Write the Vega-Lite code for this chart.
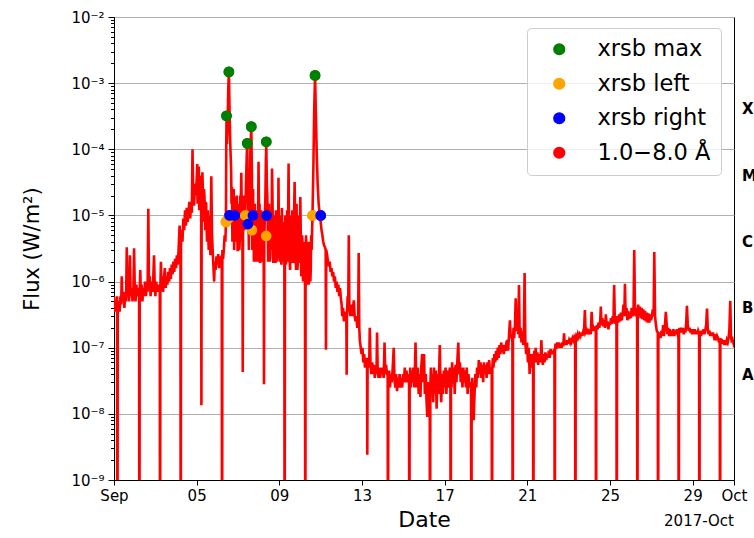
{
  "$schema": "https://vega.github.io/schema/vega-lite/v6.json",
  "width": 620,
  "height": 463,
  "autosize": "none",
  "padding": {"left": 114, "top": 17, "right": 20, "bottom": 58},
  "config": {
    "view": {"stroke": "black", "strokeWidth": 1},
    "font": "DejaVu Sans",
    "axis": {"labelFont": "DejaVu Sans", "titleFont": "DejaVu Sans", "labelColor": "black", "titleColor": "black", "domainColor": "black", "tickColor": "black", "titleFontWeight": "normal"}
  },
  "datasets": {
    "xrs": [
      {"time":"2017-09-01T00:00","flux":6e-7},{"time":"2017-09-01T01:00","flux":3.5e-7},{"time":"2017-09-01T02:00","flux":5e-7},{"time":"2017-09-01T03:00","flux":4e-7},{"time":"2017-09-01T03:40","flux":6e-7},{"time":"2017-09-01T04:00","flux":1e-12},{"time":"2017-09-01T04:20","flux":5e-7},{"time":"2017-09-01T05:30","flux":4.5e-7},{"time":"2017-09-01T06:30","flux":3.5e-7},{"time":"2017-09-01T07:30","flux":6e-7},{"time":"2017-09-01T08:20","flux":4.5e-7},{"time":"2017-09-01T09:00","flux":1.2e-6},{"time":"2017-09-01T09:50","flux":5e-7},{"time":"2017-09-01T11:00","flux":7e-7},{"time":"2017-09-01T12:00","flux":4e-7},{"time":"2017-09-01T13:00","flux":6e-7},{"time":"2017-09-01T14:00","flux":5e-7},{"time":"2017-09-01T14:50","flux":3.3e-6},{"time":"2017-09-01T15:40","flux":6e-7},{"time":"2017-09-01T16:30","flux":9e-7},{"time":"2017-09-01T17:30","flux":5e-7},{"time":"2017-09-01T18:30","flux":2.5e-6},{"time":"2017-09-01T19:20","flux":6e-7},{"time":"2017-09-01T20:30","flux":8e-7},{"time":"2017-09-01T21:30","flux":5e-7},{"time":"2017-09-01T22:30","flux":7e-7},{"time":"2017-09-01T23:20","flux":3.2e-6},
      {"time":"2017-09-02T00:10","flux":7e-7},{"time":"2017-09-02T01:00","flux":5e-7},{"time":"2017-09-02T02:00","flux":9e-7},{"time":"2017-09-02T03:00","flux":6e-7},{"time":"2017-09-02T04:00","flux":8e-7},{"time":"2017-09-02T05:10","flux":7e-7},{"time":"2017-09-02T05:30","flux":1e-12},{"time":"2017-09-02T05:50","flux":7e-7},{"time":"2017-09-02T06:30","flux":1.5e-6},{"time":"2017-09-02T07:10","flux":6e-7},{"time":"2017-09-02T08:00","flux":9e-7},{"time":"2017-09-02T09:00","flux":5e-7},{"time":"2017-09-02T10:00","flux":8e-7},{"time":"2017-09-02T11:00","flux":6e-7},{"time":"2017-09-02T12:00","flux":1e-6},{"time":"2017-09-02T13:00","flux":6e-7},{"time":"2017-09-02T14:00","flux":9e-7},{"time":"2017-09-02T15:00","flux":7e-7},{"time":"2017-09-02T15:50","flux":1.26e-5},{"time":"2017-09-02T16:40","flux":8e-7},{"time":"2017-09-02T17:30","flux":1.2e-6},{"time":"2017-09-02T18:30","flux":6e-7},{"time":"2017-09-02T19:30","flux":1e-6},{"time":"2017-09-02T20:30","flux":7e-7},{"time":"2017-09-02T21:30","flux":1e-6},{"time":"2017-09-02T22:30","flux":2.5e-6},{"time":"2017-09-02T23:20","flux":8e-7},
      {"time":"2017-09-03T00:00","flux":6e-7},{"time":"2017-09-03T01:00","flux":1e-6},{"time":"2017-09-03T02:00","flux":7e-7},{"time":"2017-09-03T03:00","flux":9e-7},{"time":"2017-09-03T04:00","flux":7e-7},{"time":"2017-09-03T05:10","flux":8e-7},{"time":"2017-09-03T05:30","flux":1e-12},{"time":"2017-09-03T05:50","flux":8e-7},{"time":"2017-09-03T06:30","flux":2e-6},{"time":"2017-09-03T07:10","flux":8e-7},{"time":"2017-09-03T08:00","flux":1.2e-6},{"time":"2017-09-03T09:00","flux":7e-7},{"time":"2017-09-03T10:00","flux":1.1e-6},{"time":"2017-09-03T11:00","flux":1.6e-6},{"time":"2017-09-03T12:00","flux":8e-7},{"time":"2017-09-03T13:00","flux":1.2e-6},{"time":"2017-09-03T14:00","flux":9e-7},{"time":"2017-09-03T15:00","flux":1.4e-6},{"time":"2017-09-03T16:00","flux":1e-6},{"time":"2017-09-03T17:00","flux":1.6e-6},{"time":"2017-09-03T18:00","flux":1.1e-6},{"time":"2017-09-03T19:00","flux":1.8e-6},{"time":"2017-09-03T20:00","flux":1.3e-6},{"time":"2017-09-03T21:00","flux":2e-6},{"time":"2017-09-03T22:00","flux":1.4e-6},{"time":"2017-09-03T23:00","flux":2.2e-6},
      {"time":"2017-09-04T00:00","flux":1.6e-6},{"time":"2017-09-04T01:00","flux":2.5e-6},{"time":"2017-09-04T02:00","flux":1.8e-6},{"time":"2017-09-04T03:00","flux":3e-6},{"time":"2017-09-04T04:10","flux":7e-6},{"time":"2017-09-04T05:10","flux":4e-6},{"time":"2017-09-04T05:30","flux":1e-12},{"time":"2017-09-04T05:50","flux":4e-6},{"time":"2017-09-04T06:40","flux":6e-6},{"time":"2017-09-04T07:30","flux":4e-6},{"time":"2017-09-04T08:30","flux":9e-6},{"time":"2017-09-04T09:30","flux":6e-6},{"time":"2017-09-04T10:30","flux":1.2e-5},{"time":"2017-09-04T11:30","flux":7e-6},{"time":"2017-09-04T12:30","flux":1.3e-5},{"time":"2017-09-04T13:30","flux":8e-6},{"time":"2017-09-04T14:30","flux":1.1e-5},{"time":"2017-09-04T15:30","flux":1.6e-5},{"time":"2017-09-04T16:30","flux":9e-6},{"time":"2017-09-04T17:30","flux":1.5e-5},{"time":"2017-09-04T18:20","flux":1.1e-5},{"time":"2017-09-04T19:10","flux":1e-4},{"time":"2017-09-04T20:00","flux":2e-5},{"time":"2017-09-04T21:00","flux":1.4e-5},{"time":"2017-09-04T22:00","flux":3e-5},{"time":"2017-09-04T23:00","flux":2e-5},
      {"time":"2017-09-05T00:00","flux":3.5e-5},{"time":"2017-09-05T00:40","flux":6e-5},{"time":"2017-09-05T01:30","flux":2.5e-5},{"time":"2017-09-05T02:30","flux":5.5e-5},{"time":"2017-09-05T03:30","flux":2.5e-5},{"time":"2017-09-05T04:20","flux":4e-5},{"time":"2017-09-05T05:10","flux":3e-5},{"time":"2017-09-05T05:30","flux":1.35e-8},{"time":"2017-09-05T05:50","flux":2.5e-5},{"time":"2017-09-05T06:40","flux":4.5e-5},{"time":"2017-09-05T07:30","flux":1.8e-5},{"time":"2017-09-05T08:30","flux":2.5e-5},{"time":"2017-09-05T09:30","flux":1.2e-5},{"time":"2017-09-05T10:30","flux":1.6e-5},{"time":"2017-09-05T11:30","flux":8e-6},{"time":"2017-09-05T12:30","flux":1e-5},{"time":"2017-09-05T13:30","flux":5e-6},{"time":"2017-09-05T14:30","flux":8e-6},{"time":"2017-09-05T15:30","flux":4e-6},{"time":"2017-09-05T16:20","flux":7e-6},{"time":"2017-09-05T17:00","flux":3.9e-5},{"time":"2017-09-05T17:50","flux":5e-6},{"time":"2017-09-05T18:50","flux":2.5e-6},{"time":"2017-09-05T19:40","flux":1.5e-6},{"time":"2017-09-05T20:20","flux":1e-6},{"time":"2017-09-05T21:00","flux":2e-6},{"time":"2017-09-05T22:00","flux":1.5e-6},{"time":"2017-09-05T23:00","flux":2.4e-6},
      {"time":"2017-09-06T00:00","flux":1.8e-6},{"time":"2017-09-06T01:00","flux":2.6e-6},{"time":"2017-09-06T02:00","flux":1.6e-6},{"time":"2017-09-06T03:00","flux":2.4e-6},{"time":"2017-09-06T04:00","flux":1.8e-6},{"time":"2017-09-06T05:10","flux":2.5e-6},{"time":"2017-09-06T05:30","flux":1e-12},{"time":"2017-09-06T05:50","flux":3e-6},{"time":"2017-09-06T06:40","flux":2.2e-6},{"time":"2017-09-06T07:30","flux":3e-6},{"time":"2017-09-06T08:30","flux":5e-6},{"time":"2017-09-06T09:20","flux":4e-6},{"time":"2017-09-06T10:00","flux":8e-6},{"time":"2017-09-06T10:20","flux":1e-4},{"time":"2017-09-06T10:40","flux":3.2e-4},{"time":"2017-09-06T11:10","flux":1.2e-4},{"time":"2017-09-06T11:50","flux":2e-4},{"time":"2017-09-06T12:40","flux":8e-4},{"time":"2017-09-06T13:25","flux":1.48e-3},{"time":"2017-09-06T14:10","flux":4e-4},{"time":"2017-09-06T15:00","flux":1.2e-4},{"time":"2017-09-06T16:00","flux":5e-5},{"time":"2017-09-06T17:00","flux":2.7e-5},{"time":"2017-09-06T18:00","flux":1.2e-5},{"time":"2017-09-06T19:00","flux":2.5e-5},{"time":"2017-09-06T20:00","flux":8e-6},{"time":"2017-09-06T21:00","flux":1.9e-5},{"time":"2017-09-06T22:00","flux":6e-6},{"time":"2017-09-06T23:00","flux":1e-5},
      {"time":"2017-09-07T00:00","flux":3e-6},{"time":"2017-09-07T01:00","flux":1.2e-5},{"time":"2017-09-07T02:00","flux":4e-6},{"time":"2017-09-07T03:00","flux":9e-6},{"time":"2017-09-07T03:50","flux":4.4e-5},{"time":"2017-09-07T04:40","flux":5e-6},{"time":"2017-09-07T05:10","flux":4e-6},{"time":"2017-09-07T05:30","flux":4.3e-8},{"time":"2017-09-07T05:50","flux":5e-6},{"time":"2017-09-07T06:40","flux":2e-5},{"time":"2017-09-07T07:30","flux":6e-6},{"time":"2017-09-07T08:25","flux":1e-5},{"time":"2017-09-07T09:30","flux":4e-5},{"time":"2017-09-07T10:10","flux":8e-5},{"time":"2017-09-07T10:45","flux":1.23e-4},{"time":"2017-09-07T11:20","flux":3e-5},{"time":"2017-09-07T12:10","flux":1e-5},{"time":"2017-09-07T13:10","flux":2e-5},{"time":"2017-09-07T14:20","flux":9e-5},{"time":"2017-09-07T15:25","flux":2.2e-4},{"time":"2017-09-07T16:10","flux":4e-5},{"time":"2017-09-07T17:00","flux":1.2e-5},{"time":"2017-09-07T18:00","flux":5e-6},{"time":"2017-09-07T19:00","flux":1e-5},{"time":"2017-09-07T20:00","flux":3e-6},{"time":"2017-09-07T21:00","flux":6e-6},{"time":"2017-09-07T22:00","flux":4e-6},{"time":"2017-09-07T23:00","flux":2.5e-6},{"time":"2017-09-07T23:50","flux":6.5e-5},
      {"time":"2017-09-08T00:40","flux":5e-6},{"time":"2017-09-08T01:30","flux":2e-6},{"time":"2017-09-08T02:30","flux":5e-6},{"time":"2017-09-08T03:30","flux":2.5e-6},{"time":"2017-09-08T04:30","flux":6e-6},{"time":"2017-09-08T05:50","flux":4e-6},{"time":"2017-09-08T06:10","flux":2.8e-8},{"time":"2017-09-08T06:30","flux":4e-6},{"time":"2017-09-08T07:10","flux":1e-5},{"time":"2017-09-08T07:50","flux":2e-5},{"time":"2017-09-08T08:20","flux":6e-5},{"time":"2017-09-08T08:50","flux":1.3e-4},{"time":"2017-09-08T09:30","flux":3e-5},{"time":"2017-09-08T10:30","flux":8e-6},{"time":"2017-09-08T11:30","flux":3e-6},{"time":"2017-09-08T12:30","flux":6e-6},{"time":"2017-09-08T13:30","flux":2.5e-6},{"time":"2017-09-08T14:30","flux":8e-6},{"time":"2017-09-08T15:30","flux":5.1e-5},{"time":"2017-09-08T16:30","flux":6e-6},{"time":"2017-09-08T17:30","flux":2e-6},{"time":"2017-09-08T18:30","flux":4e-6},{"time":"2017-09-08T19:30","flux":2e-6},{"time":"2017-09-08T20:30","flux":5e-6},{"time":"2017-09-08T21:30","flux":3e-6},{"time":"2017-09-08T23:00","flux":3.7e-5},{"time":"2017-09-08T23:40","flux":3e-6},
      {"time":"2017-09-09T00:30","flux":2e-6},{"time":"2017-09-09T01:30","flux":4e-6},{"time":"2017-09-09T02:30","flux":1.8e-6},{"time":"2017-09-09T03:30","flux":5e-6},{"time":"2017-09-09T04:30","flux":2.5e-6},{"time":"2017-09-09T05:50","flux":2.5e-6},{"time":"2017-09-09T06:10","flux":1e-12},{"time":"2017-09-09T06:30","flux":3e-6},{"time":"2017-09-09T07:30","flux":1.8e-6},{"time":"2017-09-09T08:30","flux":4e-6},{"time":"2017-09-09T09:30","flux":2e-6},{"time":"2017-09-09T10:00","flux":5e-6},{"time":"2017-09-09T10:45","flux":6.1e-5},{"time":"2017-09-09T11:40","flux":3e-6},{"time":"2017-09-09T12:30","flux":1.5e-6},{"time":"2017-09-09T13:30","flux":4e-6},{"time":"2017-09-09T14:30","flux":2e-6},{"time":"2017-09-09T15:30","flux":5e-6},{"time":"2017-09-09T16:30","flux":2e-6},{"time":"2017-09-09T17:45","flux":3.2e-5},{"time":"2017-09-09T18:40","flux":3e-6},{"time":"2017-09-09T19:30","flux":1.5e-6},{"time":"2017-09-09T20:30","flux":4e-6},{"time":"2017-09-09T21:30","flux":2e-6},{"time":"2017-09-09T22:30","flux":5e-6},{"time":"2017-09-09T23:30","flux":2e-6},
      {"time":"2017-09-10T00:20","flux":1.9e-5},{"time":"2017-09-10T01:00","flux":3e-6},{"time":"2017-09-10T02:00","flux":1.5e-6},{"time":"2017-09-10T03:00","flux":3e-6},{"time":"2017-09-10T04:00","flux":1.2e-6},{"time":"2017-09-10T05:00","flux":2e-6},{"time":"2017-09-10T05:50","flux":1.5e-6},{"time":"2017-09-10T06:10","flux":1e-12},{"time":"2017-09-10T06:30","flux":1.5e-6},{"time":"2017-09-10T07:30","flux":2.5e-6},{"time":"2017-09-10T08:30","flux":1.2e-6},{"time":"2017-09-10T09:30","flux":2e-6},{"time":"2017-09-10T10:30","flux":1e-6},{"time":"2017-09-10T11:30","flux":2.5e-6},{"time":"2017-09-10T12:30","flux":1.5e-6},{"time":"2017-09-10T13:30","flux":3e-6},{"time":"2017-09-10T14:30","flux":1e-5},{"time":"2017-09-10T15:30","flux":5e-5},{"time":"2017-09-10T16:30","flux":4e-4},{"time":"2017-09-10T17:30","flux":1.31e-3},{"time":"2017-09-10T18:30","flux":3e-4},{"time":"2017-09-10T19:30","flux":8e-5},{"time":"2017-09-10T20:30","flux":3e-5},{"time":"2017-09-10T21:40","flux":1.5e-5},{"time":"2017-09-10T23:00","flux":1e-5},
      {"time":"2017-09-11T00:00","flux":8e-6},{"time":"2017-09-11T01:00","flux":6e-6},{"time":"2017-09-11T02:00","flux":5e-6},{"time":"2017-09-11T03:00","flux":4e-6},{"time":"2017-09-11T04:00","flux":3.5e-6},{"time":"2017-09-11T05:00","flux":3.3e-6},{"time":"2017-09-11T05:50","flux":3e-6},{"time":"2017-09-11T06:10","flux":9.3e-8},{"time":"2017-09-11T06:30","flux":3e-6},{"time":"2017-09-11T07:30","flux":2.5e-6},{"time":"2017-09-11T08:30","flux":2e-6},{"time":"2017-09-11T09:30","flux":1.7e-6},{"time":"2017-09-11T10:30","flux":2e-6},{"time":"2017-09-11T11:30","flux":1.4e-6},{"time":"2017-09-11T12:30","flux":1.6e-6},{"time":"2017-09-11T13:30","flux":1.2e-6},{"time":"2017-09-11T14:30","flux":1.4e-6},{"time":"2017-09-11T15:30","flux":1e-6},{"time":"2017-09-11T16:30","flux":1.2e-6},{"time":"2017-09-11T17:30","flux":8e-7},{"time":"2017-09-11T18:30","flux":1e-6},{"time":"2017-09-11T19:30","flux":7e-7},{"time":"2017-09-11T20:30","flux":9e-7},{"time":"2017-09-11T21:30","flux":6e-7},{"time":"2017-09-11T22:30","flux":8e-7},{"time":"2017-09-11T23:30","flux":5.5e-7},
      {"time":"2017-09-12T00:20","flux":4.5e-7},{"time":"2017-09-12T01:00","flux":3e-7},{"time":"2017-09-12T02:00","flux":4e-7},{"time":"2017-09-12T03:00","flux":2.5e-7},{"time":"2017-09-12T04:00","flux":3.5e-7},{"time":"2017-09-12T05:00","flux":3e-7},{"time":"2017-09-12T05:50","flux":3e-7},{"time":"2017-09-12T06:10","flux":3.9e-8},{"time":"2017-09-12T06:30","flux":3e-7},{"time":"2017-09-12T07:20","flux":6e-7},{"time":"2017-09-12T08:00","flux":4e-7},{"time":"2017-09-12T08:40","flux":5e-6},{"time":"2017-09-12T09:20","flux":4e-7},{"time":"2017-09-12T10:30","flux":3e-7},{"time":"2017-09-12T11:30","flux":4.5e-7},{"time":"2017-09-12T12:30","flux":3e-7},{"time":"2017-09-12T13:30","flux":4e-7},{"time":"2017-09-12T14:30","flux":5.2e-7},{"time":"2017-09-12T15:30","flux":3e-7},{"time":"2017-09-12T16:30","flux":2.5e-7},{"time":"2017-09-12T17:30","flux":3e-7},{"time":"2017-09-12T18:30","flux":2e-7},{"time":"2017-09-12T19:30","flux":2.5e-7},{"time":"2017-09-12T20:10","flux":2.7e-6},{"time":"2017-09-12T20:50","flux":2e-7},{"time":"2017-09-12T21:30","flux":1.3e-7},{"time":"2017-09-12T22:30","flux":1e-7},{"time":"2017-09-12T23:30","flux":8e-8},
      {"time":"2017-09-13T00:30","flux":1e-7},{"time":"2017-09-13T01:30","flux":6e-8},{"time":"2017-09-13T02:30","flux":8e-8},{"time":"2017-09-13T03:30","flux":5e-8},{"time":"2017-09-13T04:30","flux":7e-8},{"time":"2017-09-13T05:50","flux":5e-8},{"time":"2017-09-13T06:10","flux":2.4e-9},{"time":"2017-09-13T06:30","flux":6e-8},{"time":"2017-09-13T07:30","flux":7e-8},{"time":"2017-09-13T08:20","flux":5e-8},{"time":"2017-09-13T09:00","flux":2e-7},{"time":"2017-09-13T09:50","flux":6e-8},{"time":"2017-09-13T10:50","flux":4e-8},{"time":"2017-09-13T11:50","flux":6e-8},{"time":"2017-09-13T12:50","flux":4e-8},{"time":"2017-09-13T13:50","flux":5.5e-8},{"time":"2017-09-13T14:50","flux":3.5e-8},{"time":"2017-09-13T15:50","flux":5e-8},{"time":"2017-09-13T16:50","flux":4e-8},{"time":"2017-09-13T17:30","flux":1.7e-7},{"time":"2017-09-13T18:10","flux":5e-8},{"time":"2017-09-13T19:10","flux":3.5e-8},{"time":"2017-09-13T20:10","flux":5e-8},{"time":"2017-09-13T21:10","flux":3.5e-8},{"time":"2017-09-13T22:10","flux":5e-8},{"time":"2017-09-13T23:10","flux":4e-8},
      {"time":"2017-09-14T00:10","flux":5e-8},{"time":"2017-09-14T01:10","flux":3.5e-8},{"time":"2017-09-14T02:10","flux":1.2e-7},{"time":"2017-09-14T03:00","flux":4e-8},{"time":"2017-09-14T04:00","flux":5.5e-8},{"time":"2017-09-14T05:00","flux":4e-8},{"time":"2017-09-14T05:50","flux":4e-8},{"time":"2017-09-14T06:10","flux":1e-12},{"time":"2017-09-14T06:30","flux":4e-8},{"time":"2017-09-14T07:30","flux":4.5e-8},{"time":"2017-09-14T08:30","flux":2.5e-8},{"time":"2017-09-14T09:30","flux":4e-8},{"time":"2017-09-14T10:30","flux":3e-8},{"time":"2017-09-14T11:30","flux":4.5e-8},{"time":"2017-09-14T12:50","flux":1e-7},{"time":"2017-09-14T13:40","flux":3.5e-8},{"time":"2017-09-14T14:40","flux":2.5e-8},{"time":"2017-09-14T15:40","flux":4e-8},{"time":"2017-09-14T16:40","flux":2.2e-8},{"time":"2017-09-14T17:40","flux":3.5e-8},{"time":"2017-09-14T18:40","flux":2.5e-8},{"time":"2017-09-14T19:40","flux":4e-8},{"time":"2017-09-14T20:40","flux":2.5e-8},{"time":"2017-09-14T21:40","flux":3.5e-8},{"time":"2017-09-14T22:40","flux":2.5e-8},{"time":"2017-09-14T23:40","flux":4e-8},
      {"time":"2017-09-15T00:40","flux":3e-8},{"time":"2017-09-15T01:40","flux":5e-8},{"time":"2017-09-15T02:40","flux":3e-8},{"time":"2017-09-15T03:40","flux":4.5e-8},{"time":"2017-09-15T04:40","flux":3e-8},{"time":"2017-09-15T05:40","flux":4e-8},{"time":"2017-09-15T06:40","flux":3e-8},{"time":"2017-09-15T07:00","flux":1e-12},{"time":"2017-09-15T07:20","flux":3e-8},{"time":"2017-09-15T08:00","flux":5e-8},{"time":"2017-09-15T08:40","flux":2.5e-8},{"time":"2017-09-15T09:40","flux":4.5e-8},{"time":"2017-09-15T10:40","flux":3e-8},{"time":"2017-09-15T11:40","flux":5e-8},{"time":"2017-09-15T12:40","flux":2.5e-8},{"time":"2017-09-15T13:40","flux":6e-8},{"time":"2017-09-15T14:10","flux":1.2e-7},{"time":"2017-09-15T14:50","flux":4e-8},{"time":"2017-09-15T15:50","flux":2.5e-8},{"time":"2017-09-15T16:50","flux":5e-8},{"time":"2017-09-15T17:50","flux":2e-8},{"time":"2017-09-15T18:50","flux":4e-8},{"time":"2017-09-15T19:50","flux":1.8e-8},{"time":"2017-09-15T20:50","flux":5e-8},{"time":"2017-09-15T21:50","flux":8e-8},{"time":"2017-09-15T22:50","flux":3e-8},
      {"time":"2017-09-16T00:00","flux":8e-8},{"time":"2017-09-16T01:00","flux":2e-8},{"time":"2017-09-16T02:00","flux":4e-8},{"time":"2017-09-16T03:00","flux":1.5e-8},{"time":"2017-09-16T03:50","flux":9e-9},{"time":"2017-09-16T04:30","flux":3e-8},{"time":"2017-09-16T05:30","flux":2.5e-8},{"time":"2017-09-16T06:40","flux":3e-8},{"time":"2017-09-16T07:00","flux":1e-12},{"time":"2017-09-16T07:20","flux":2.5e-8},{"time":"2017-09-16T08:00","flux":5e-8},{"time":"2017-09-16T08:40","flux":2e-8},{"time":"2017-09-16T09:40","flux":4e-8},{"time":"2017-09-16T10:40","flux":1.5e-8},{"time":"2017-09-16T11:40","flux":5e-8},{"time":"2017-09-16T12:40","flux":2e-8},{"time":"2017-09-16T13:40","flux":4.5e-8},{"time":"2017-09-16T14:40","flux":1.2e-8},{"time":"2017-09-16T15:40","flux":4e-8},{"time":"2017-09-16T16:40","flux":2e-8},{"time":"2017-09-16T17:40","flux":5e-8},{"time":"2017-09-16T18:20","flux":1.1e-7},{"time":"2017-09-16T19:00","flux":3e-8},{"time":"2017-09-16T20:00","flux":1.5e-8},{"time":"2017-09-16T21:00","flux":4e-8},{"time":"2017-09-16T22:00","flux":2e-8},{"time":"2017-09-16T23:00","flux":4.5e-8},
      {"time":"2017-09-17T00:00","flux":2.5e-8},{"time":"2017-09-17T01:00","flux":5e-8},{"time":"2017-09-17T02:00","flux":2e-8},{"time":"2017-09-17T03:00","flux":4.5e-8},{"time":"2017-09-17T04:00","flux":2.5e-8},{"time":"2017-09-17T05:00","flux":3e-8},{"time":"2017-09-17T06:00","flux":5e-8},{"time":"2017-09-17T06:40","flux":3e-8},{"time":"2017-09-17T07:00","flux":1e-12},{"time":"2017-09-17T07:20","flux":3e-8},{"time":"2017-09-17T08:00","flux":2.5e-8},{"time":"2017-09-17T08:40","flux":6e-8},{"time":"2017-09-17T09:40","flux":3e-8},{"time":"2017-09-17T10:40","flux":5e-8},{"time":"2017-09-17T11:40","flux":2e-8},{"time":"2017-09-17T12:40","flux":5.5e-8},{"time":"2017-09-17T13:40","flux":3e-8},{"time":"2017-09-17T14:40","flux":6e-8},{"time":"2017-09-17T15:50","flux":1.2e-7},{"time":"2017-09-17T16:40","flux":4e-8},{"time":"2017-09-17T17:40","flux":6e-8},{"time":"2017-09-17T18:40","flux":3e-8},{"time":"2017-09-17T19:40","flux":5e-8},{"time":"2017-09-17T20:40","flux":2.5e-8},{"time":"2017-09-17T21:40","flux":5e-8},{"time":"2017-09-17T22:40","flux":3e-8},{"time":"2017-09-17T23:40","flux":4.5e-8},
      {"time":"2017-09-18T00:40","flux":2.5e-8},{"time":"2017-09-18T01:40","flux":5e-8},{"time":"2017-09-18T02:40","flux":2e-8},{"time":"2017-09-18T03:40","flux":4e-8},{"time":"2017-09-18T04:40","flux":2.5e-8},{"time":"2017-09-18T05:40","flux":3e-8},{"time":"2017-09-18T06:40","flux":2.5e-8},{"time":"2017-09-18T07:00","flux":1e-12},{"time":"2017-09-18T07:20","flux":2e-8},{"time":"2017-09-18T08:00","flux":3.5e-8},{"time":"2017-09-18T08:40","flux":1.2e-8},{"time":"2017-09-18T09:40","flux":8e-9},{"time":"2017-09-18T10:40","flux":2e-8},{"time":"2017-09-18T11:40","flux":4e-8},{"time":"2017-09-18T12:40","flux":2.5e-8},{"time":"2017-09-18T13:40","flux":5e-8},{"time":"2017-09-18T14:40","flux":3.5e-8},{"time":"2017-09-18T15:40","flux":6.5e-8},{"time":"2017-09-18T16:40","flux":4e-8},{"time":"2017-09-18T17:40","flux":6e-8},{"time":"2017-09-18T18:40","flux":3.5e-8},{"time":"2017-09-18T19:40","flux":5.5e-8},{"time":"2017-09-18T20:40","flux":3e-8},{"time":"2017-09-18T21:40","flux":6e-8},{"time":"2017-09-18T22:40","flux":4e-8},{"time":"2017-09-18T23:40","flux":5.5e-8},
      {"time":"2017-09-19T00:40","flux":3.5e-8},{"time":"2017-09-19T01:40","flux":6e-8},{"time":"2017-09-19T02:40","flux":4e-8},{"time":"2017-09-19T03:40","flux":6.5e-8},{"time":"2017-09-19T04:40","flux":4e-8},{"time":"2017-09-19T05:40","flux":5e-8},{"time":"2017-09-19T06:40","flux":4.5e-8},{"time":"2017-09-19T07:00","flux":1e-12},{"time":"2017-09-19T07:20","flux":5e-8},{"time":"2017-09-19T08:00","flux":7e-8},{"time":"2017-09-19T08:40","flux":5e-8},{"time":"2017-09-19T09:40","flux":8e-8},{"time":"2017-09-19T10:40","flux":6e-8},{"time":"2017-09-19T11:40","flux":9e-8},{"time":"2017-09-19T12:40","flux":6.5e-8},{"time":"2017-09-19T13:40","flux":1e-7},{"time":"2017-09-19T14:40","flux":7e-8},{"time":"2017-09-19T15:40","flux":1.1e-7},{"time":"2017-09-19T16:40","flux":8e-8},{"time":"2017-09-19T17:40","flux":1.2e-7},{"time":"2017-09-19T18:40","flux":8.5e-8},{"time":"2017-09-19T19:40","flux":1.1e-7},{"time":"2017-09-19T20:40","flux":8e-8},{"time":"2017-09-19T21:40","flux":1.1e-7},{"time":"2017-09-19T22:40","flux":9e-8},{"time":"2017-09-19T23:40","flux":1.2e-7},
      {"time":"2017-09-20T00:40","flux":1.3e-7},{"time":"2017-09-20T01:40","flux":9e-8},{"time":"2017-09-20T02:40","flux":1.5e-7},{"time":"2017-09-20T03:50","flux":2.6e-7},{"time":"2017-09-20T04:40","flux":1.4e-7},{"time":"2017-09-20T05:40","flux":1.6e-7},{"time":"2017-09-20T06:40","flux":1.2e-7},{"time":"2017-09-20T07:00","flux":1e-12},{"time":"2017-09-20T07:20","flux":1.3e-7},{"time":"2017-09-20T08:00","flux":2e-7},{"time":"2017-09-20T08:40","flux":1.4e-7},{"time":"2017-09-20T09:40","flux":2.2e-7},{"time":"2017-09-20T10:30","flux":5.6e-7},{"time":"2017-09-20T11:20","flux":1.8e-7},{"time":"2017-09-20T12:20","flux":3e-7},{"time":"2017-09-20T13:20","flux":1.6e-7},{"time":"2017-09-20T14:20","flux":8.9e-7},{"time":"2017-09-20T15:10","flux":1.4e-7},{"time":"2017-09-20T16:10","flux":2e-7},{"time":"2017-09-20T17:10","flux":1.2e-7},{"time":"2017-09-20T18:10","flux":1.8e-7},{"time":"2017-09-20T19:10","flux":1.1e-7},{"time":"2017-09-20T20:00","flux":2e-7},{"time":"2017-09-20T20:50","flux":1.35e-6},{"time":"2017-09-20T21:40","flux":1.2e-7},{"time":"2017-09-20T22:40","flux":8e-8},{"time":"2017-09-20T23:40","flux":1.2e-7},
      {"time":"2017-09-21T00:40","flux":6e-8},{"time":"2017-09-21T01:40","flux":1e-7},{"time":"2017-09-21T02:40","flux":4e-8},{"time":"2017-09-21T03:40","flux":8e-8},{"time":"2017-09-21T04:40","flux":5e-8},{"time":"2017-09-21T05:40","flux":8e-8},{"time":"2017-09-21T06:40","flux":6e-8},{"time":"2017-09-21T07:00","flux":1e-12},{"time":"2017-09-21T07:20","flux":6e-8},{"time":"2017-09-21T08:00","flux":9e-8},{"time":"2017-09-21T08:40","flux":6e-8},{"time":"2017-09-21T09:40","flux":1e-7},{"time":"2017-09-21T10:40","flux":6e-8},{"time":"2017-09-21T11:40","flux":8.5e-8},{"time":"2017-09-21T12:40","flux":5.5e-8},{"time":"2017-09-21T13:40","flux":8e-8},{"time":"2017-09-21T14:40","flux":6e-8},{"time":"2017-09-21T15:40","flux":8e-8},{"time":"2017-09-21T16:20","flux":1.3e-7},{"time":"2017-09-21T17:00","flux":7e-8},{"time":"2017-09-21T18:00","flux":5.5e-8},{"time":"2017-09-21T19:00","flux":8e-8},{"time":"2017-09-21T20:00","flux":6e-8},{"time":"2017-09-21T21:00","flux":8.5e-8},{"time":"2017-09-21T22:00","flux":6.5e-8},{"time":"2017-09-21T23:00","flux":8e-8},
      {"time":"2017-09-22T00:00","flux":7e-8},{"time":"2017-09-22T01:00","flux":9e-8},{"time":"2017-09-22T02:00","flux":7e-8},{"time":"2017-09-22T03:00","flux":9.5e-8},{"time":"2017-09-22T04:00","flux":8e-8},{"time":"2017-09-22T05:00","flux":9e-8},{"time":"2017-09-22T06:00","flux":8e-8},{"time":"2017-09-22T07:00","flux":9.5e-8},{"time":"2017-09-22T07:30","flux":9e-8},{"time":"2017-09-22T07:50","flux":1e-12},{"time":"2017-09-22T08:10","flux":9e-8},{"time":"2017-09-22T08:40","flux":1.15e-7},{"time":"2017-09-22T09:40","flux":9.5e-8},{"time":"2017-09-22T10:40","flux":1.2e-7},{"time":"2017-09-22T11:40","flux":1e-7},{"time":"2017-09-22T12:40","flux":1.2e-7},{"time":"2017-09-22T13:40","flux":1e-7},{"time":"2017-09-22T14:40","flux":1.15e-7},{"time":"2017-09-22T15:40","flux":1e-7},{"time":"2017-09-22T16:40","flux":1.2e-7},{"time":"2017-09-22T17:40","flux":1.05e-7},{"time":"2017-09-22T18:40","flux":1.65e-7},{"time":"2017-09-22T19:30","flux":1.1e-7},{"time":"2017-09-22T20:30","flux":1.25e-7},{"time":"2017-09-22T21:30","flux":1.1e-7},{"time":"2017-09-22T22:30","flux":1.3e-7},{"time":"2017-09-22T23:30","flux":1.15e-7},
      {"time":"2017-09-23T00:30","flux":1.3e-7},{"time":"2017-09-23T01:30","flux":1.2e-7},{"time":"2017-09-23T02:30","flux":1.4e-7},{"time":"2017-09-23T03:30","flux":1.25e-7},{"time":"2017-09-23T04:30","flux":1.4e-7},{"time":"2017-09-23T05:30","flux":1.3e-7},{"time":"2017-09-23T06:30","flux":1.45e-7},{"time":"2017-09-23T07:30","flux":1.35e-7},{"time":"2017-09-23T07:50","flux":1e-12},{"time":"2017-09-23T08:10","flux":1.4e-7},{"time":"2017-09-23T08:40","flux":1.5e-7},{"time":"2017-09-23T09:40","flux":1.4e-7},{"time":"2017-09-23T10:40","flux":1.6e-7},{"time":"2017-09-23T11:40","flux":1.45e-7},{"time":"2017-09-23T12:40","flux":1.6e-7},{"time":"2017-09-23T13:40","flux":1.5e-7},{"time":"2017-09-23T14:40","flux":1.7e-7},{"time":"2017-09-23T15:40","flux":1.5e-7},{"time":"2017-09-23T16:40","flux":1.7e-7},{"time":"2017-09-23T17:40","flux":1.55e-7},{"time":"2017-09-23T18:50","flux":3.7e-7},{"time":"2017-09-23T19:40","flux":1.7e-7},{"time":"2017-09-23T20:40","flux":1.8e-7},{"time":"2017-09-23T21:40","flux":1.6e-7},{"time":"2017-09-23T22:40","flux":1.8e-7},{"time":"2017-09-23T23:40","flux":1.7e-7},
      {"time":"2017-09-24T00:40","flux":1.8e-7},{"time":"2017-09-24T01:40","flux":1.6e-7},{"time":"2017-09-24T02:40","flux":3.5e-7},{"time":"2017-09-24T03:40","flux":1.8e-7},{"time":"2017-09-24T04:40","flux":2e-7},{"time":"2017-09-24T05:40","flux":1.8e-7},{"time":"2017-09-24T06:40","flux":2.1e-7},{"time":"2017-09-24T07:30","flux":1.9e-7},{"time":"2017-09-24T07:50","flux":1e-12},{"time":"2017-09-24T08:10","flux":1.9e-7},{"time":"2017-09-24T08:40","flux":2.2e-7},{"time":"2017-09-24T09:40","flux":1.9e-7},{"time":"2017-09-24T10:40","flux":2.4e-7},{"time":"2017-09-24T11:40","flux":2e-7},{"time":"2017-09-24T12:40","flux":2.6e-7},{"time":"2017-09-24T13:20","flux":4.2e-7},{"time":"2017-09-24T14:10","flux":2.2e-7},{"time":"2017-09-24T15:10","flux":2.8e-7},{"time":"2017-09-24T16:10","flux":2.1e-7},{"time":"2017-09-24T17:10","flux":2.6e-7},{"time":"2017-09-24T18:10","flux":2e-7},{"time":"2017-09-24T19:10","flux":3.2e-7},{"time":"2017-09-24T20:10","flux":2.1e-7},{"time":"2017-09-24T21:10","flux":2.5e-7},{"time":"2017-09-24T22:10","flux":1.9e-7},{"time":"2017-09-24T23:10","flux":2.4e-7},
      {"time":"2017-09-25T00:10","flux":2.2e-7},{"time":"2017-09-25T01:10","flux":2.8e-7},{"time":"2017-09-25T02:10","flux":2.3e-7},{"time":"2017-09-25T03:10","flux":3e-7},{"time":"2017-09-25T04:00","flux":2.4e-7},{"time":"2017-09-25T04:50","flux":8.9e-7},{"time":"2017-09-25T05:40","flux":2.3e-7},{"time":"2017-09-25T06:40","flux":2.8e-7},{"time":"2017-09-25T07:30","flux":2.2e-7},{"time":"2017-09-25T07:50","flux":1e-12},{"time":"2017-09-25T08:10","flux":2.3e-7},{"time":"2017-09-25T08:40","flux":3e-7},{"time":"2017-09-25T09:40","flux":2.4e-7},{"time":"2017-09-25T10:40","flux":3.2e-7},{"time":"2017-09-25T11:40","flux":2.5e-7},{"time":"2017-09-25T12:40","flux":3.4e-7},{"time":"2017-09-25T13:40","flux":2.6e-7},{"time":"2017-09-25T14:40","flux":3.2e-7},{"time":"2017-09-25T15:40","flux":4.5e-7},{"time":"2017-09-25T16:40","flux":3e-7},{"time":"2017-09-25T17:20","flux":9.3e-7},{"time":"2017-09-25T18:10","flux":3e-7},{"time":"2017-09-25T19:10","flux":4e-7},{"time":"2017-09-25T20:10","flux":2.6e-7},{"time":"2017-09-25T21:10","flux":3.6e-7},{"time":"2017-09-25T22:10","flux":2.7e-7},{"time":"2017-09-25T23:10","flux":3.4e-7},
      {"time":"2017-09-26T00:10","flux":2.8e-7},{"time":"2017-09-26T01:10","flux":4e-7},{"time":"2017-09-26T02:10","flux":3e-7},{"time":"2017-09-26T03:20","flux":3.5e-7},{"time":"2017-09-26T04:10","flux":3e-6},{"time":"2017-09-26T05:00","flux":3.5e-7},{"time":"2017-09-26T06:00","flux":3e-7},{"time":"2017-09-26T07:00","flux":4e-7},{"time":"2017-09-26T07:30","flux":3e-7},{"time":"2017-09-26T07:50","flux":1e-12},{"time":"2017-09-26T08:10","flux":3e-7},{"time":"2017-09-26T08:40","flux":4.5e-7},{"time":"2017-09-26T09:40","flux":3e-7},{"time":"2017-09-26T10:40","flux":4.2e-7},{"time":"2017-09-26T11:40","flux":2.8e-7},{"time":"2017-09-26T12:40","flux":4e-7},{"time":"2017-09-26T13:40","flux":2.7e-7},{"time":"2017-09-26T14:40","flux":3.8e-7},{"time":"2017-09-26T15:40","flux":2.6e-7},{"time":"2017-09-26T16:40","flux":3.6e-7},{"time":"2017-09-26T17:40","flux":2.5e-7},{"time":"2017-09-26T18:40","flux":3.4e-7},{"time":"2017-09-26T19:40","flux":2.4e-7},{"time":"2017-09-26T20:40","flux":3.3e-7},{"time":"2017-09-26T21:40","flux":2.4e-7},{"time":"2017-09-26T22:40","flux":3.2e-7},{"time":"2017-09-26T23:40","flux":2.6e-7},
      {"time":"2017-09-27T00:40","flux":3e-7},{"time":"2017-09-27T01:40","flux":3.8e-7},{"time":"2017-09-27T02:40","flux":3e-7},{"time":"2017-09-27T03:25","flux":2.8e-6},{"time":"2017-09-27T04:20","flux":3e-7},{"time":"2017-09-27T05:20","flux":2.2e-7},{"time":"2017-09-27T06:20","flux":1.8e-7},{"time":"2017-09-27T07:30","flux":1.7e-7},{"time":"2017-09-27T07:50","flux":1e-12},{"time":"2017-09-27T08:10","flux":1.7e-7},{"time":"2017-09-27T08:40","flux":1.4e-7},{"time":"2017-09-27T09:40","flux":1.7e-7},{"time":"2017-09-27T10:40","flux":1.4e-7},{"time":"2017-09-27T11:40","flux":1.8e-7},{"time":"2017-09-27T12:40","flux":1.5e-7},{"time":"2017-09-27T13:40","flux":2.2e-7},{"time":"2017-09-27T14:40","flux":1.5e-7},{"time":"2017-09-27T15:40","flux":2e-7},{"time":"2017-09-27T16:50","flux":3.5e-7},{"time":"2017-09-27T17:40","flux":2.4e-7},{"time":"2017-09-27T18:40","flux":1.6e-7},{"time":"2017-09-27T19:40","flux":2e-7},{"time":"2017-09-27T20:40","flux":1.5e-7},{"time":"2017-09-27T21:40","flux":1.9e-7},{"time":"2017-09-27T22:40","flux":1.5e-7},{"time":"2017-09-27T23:40","flux":1.8e-7},
      {"time":"2017-09-28T00:40","flux":1.5e-7},{"time":"2017-09-28T01:40","flux":1.9e-7},{"time":"2017-09-28T02:40","flux":1.5e-7},{"time":"2017-09-28T03:40","flux":1.8e-7},{"time":"2017-09-28T04:40","flux":1.6e-7},{"time":"2017-09-28T05:40","flux":1.9e-7},{"time":"2017-09-28T06:40","flux":1.6e-7},{"time":"2017-09-28T07:30","flux":1.7e-7},{"time":"2017-09-28T07:50","flux":1e-12},{"time":"2017-09-28T08:10","flux":1.7e-7},{"time":"2017-09-28T08:40","flux":2e-7},{"time":"2017-09-28T09:40","flux":1.7e-7},{"time":"2017-09-28T10:40","flux":2e-7},{"time":"2017-09-28T11:40","flux":1.7e-7},{"time":"2017-09-28T12:40","flux":2e-7},{"time":"2017-09-28T13:40","flux":1.6e-7},{"time":"2017-09-28T14:40","flux":1.9e-7},{"time":"2017-09-28T15:40","flux":1.7e-7},{"time":"2017-09-28T16:30","flux":2.4e-7},{"time":"2017-09-28T17:20","flux":4.3e-7},{"time":"2017-09-28T18:20","flux":2.2e-7},{"time":"2017-09-28T19:20","flux":1.8e-7},{"time":"2017-09-28T20:20","flux":2e-7},{"time":"2017-09-28T21:20","flux":1.7e-7},{"time":"2017-09-28T22:20","flux":1.9e-7},{"time":"2017-09-28T23:20","flux":1.6e-7},
      {"time":"2017-09-29T00:20","flux":1.9e-7},{"time":"2017-09-29T01:20","flux":1.6e-7},{"time":"2017-09-29T02:20","flux":1.9e-7},{"time":"2017-09-29T03:20","flux":1.6e-7},{"time":"2017-09-29T04:20","flux":1.8e-7},{"time":"2017-09-29T05:20","flux":1.6e-7},{"time":"2017-09-29T06:20","flux":1.8e-7},{"time":"2017-09-29T07:30","flux":1.6e-7},{"time":"2017-09-29T07:50","flux":1e-12},{"time":"2017-09-29T08:10","flux":1.6e-7},{"time":"2017-09-29T08:40","flux":1.8e-7},{"time":"2017-09-29T09:40","flux":1.5e-7},{"time":"2017-09-29T10:40","flux":1.8e-7},{"time":"2017-09-29T11:40","flux":1.6e-7},{"time":"2017-09-29T12:40","flux":1.9e-7},{"time":"2017-09-29T13:40","flux":1.6e-7},{"time":"2017-09-29T14:40","flux":1.8e-7},{"time":"2017-09-29T15:40","flux":2.2e-7},{"time":"2017-09-29T16:40","flux":3.9e-7},{"time":"2017-09-29T17:30","flux":2e-7},{"time":"2017-09-29T18:30","flux":1.6e-7},{"time":"2017-09-29T19:30","flux":1.8e-7},{"time":"2017-09-29T20:30","flux":1.5e-7},{"time":"2017-09-29T21:30","flux":1.7e-7},{"time":"2017-09-29T22:30","flux":1.5e-7},{"time":"2017-09-29T23:30","flux":1.7e-7},
      {"time":"2017-09-30T00:30","flux":1.5e-7},{"time":"2017-09-30T01:30","flux":1.3e-7},{"time":"2017-09-30T02:30","flux":1.6e-7},{"time":"2017-09-30T03:30","flux":1.3e-7},{"time":"2017-09-30T04:30","flux":1.5e-7},{"time":"2017-09-30T05:30","flux":1.4e-7},{"time":"2017-09-30T06:40","flux":1.2e-7},{"time":"2017-09-30T07:30","flux":1.4e-7},{"time":"2017-09-30T07:50","flux":1e-12},{"time":"2017-09-30T08:10","flux":1.4e-7},{"time":"2017-09-30T08:40","flux":1.2e-7},{"time":"2017-09-30T09:40","flux":1.35e-7},{"time":"2017-09-30T10:40","flux":1.15e-7},{"time":"2017-09-30T11:40","flux":1.3e-7},{"time":"2017-09-30T12:40","flux":1.1e-7},{"time":"2017-09-30T13:40","flux":1.3e-7},{"time":"2017-09-30T14:40","flux":1.1e-7},{"time":"2017-09-30T15:40","flux":1.3e-7},{"time":"2017-09-30T16:40","flux":1.2e-7},{"time":"2017-09-30T17:40","flux":1.4e-7},{"time":"2017-09-30T18:40","flux":1.9e-7},{"time":"2017-09-30T19:40","flux":5.1e-7},{"time":"2017-09-30T20:30","flux":1.5e-7},{"time":"2017-09-30T21:30","flux":1.2e-7},{"time":"2017-09-30T22:30","flux":1.3e-7},{"time":"2017-09-30T23:30","flux":1.15e-7},{"time":"2017-09-30T23:59","flux":1.2e-7},
      {"time":"2017-09-05T01:00","flux":1.5e-5},{"time":"2017-09-05T02:00","flux":4e-5},{"time":"2017-09-05T03:00","flux":1.2e-5},{"time":"2017-09-05T04:00","flux":3.5e-5},{"time":"2017-09-05T06:10","flux":1.5e-5},{"time":"2017-09-05T07:00","flux":3e-5},{"time":"2017-09-05T08:00","flux":8e-6},{"time":"2017-09-05T09:00","flux":2e-5},{"time":"2017-09-05T10:00","flux":6e-6},{"time":"2017-09-05T11:00","flux":1.5e-5},{"time":"2017-09-05T12:00","flux":4e-6},{"time":"2017-09-05T13:00","flux":1.2e-5},{"time":"2017-09-05T14:00","flux":3e-6},{"time":"2017-09-05T15:00","flux":1e-5},{"time":"2017-09-05T16:00","flux":2.5e-6},
      {"time":"2017-09-06T16:30","flux":1.5e-5},{"time":"2017-09-06T17:30","flux":4e-6},{"time":"2017-09-06T18:30","flux":2e-5},{"time":"2017-09-06T19:30","flux":3e-6},{"time":"2017-09-06T20:30","flux":1.5e-5},{"time":"2017-09-06T21:30","flux":4e-6},{"time":"2017-09-06T22:30","flux":2e-5},{"time":"2017-09-06T23:30","flux":3e-6},
      {"time":"2017-09-07T00:30","flux":1.5e-5},{"time":"2017-09-07T01:30","flux":3e-6},{"time":"2017-09-07T02:30","flux":2e-5},{"time":"2017-09-07T12:40","flux":3e-6},{"time":"2017-09-07T13:40","flux":8e-6},{"time":"2017-09-07T16:40","flux":3e-6},{"time":"2017-09-07T17:30","flux":2.5e-5},{"time":"2017-09-07T18:30","flux":2e-6},{"time":"2017-09-07T19:30","flux":1.5e-5},{"time":"2017-09-07T20:30","flux":2e-6},{"time":"2017-09-07T21:30","flux":1.2e-5},{"time":"2017-09-07T22:30","flux":2e-6},
      {"time":"2017-09-08T01:00","flux":1.5e-5},{"time":"2017-09-08T02:00","flux":2e-6},{"time":"2017-09-08T03:00","flux":1.2e-5},{"time":"2017-09-08T04:00","flux":2e-6},{"time":"2017-09-08T05:00","flux":1e-5},{"time":"2017-09-08T10:00","flux":2e-5},{"time":"2017-09-08T11:00","flux":2e-6},{"time":"2017-09-08T12:00","flux":1.5e-5},{"time":"2017-09-08T13:00","flux":2e-6},{"time":"2017-09-08T14:00","flux":1.2e-5},{"time":"2017-09-08T15:00","flux":3e-6},{"time":"2017-09-08T16:00","flux":2e-5},{"time":"2017-09-08T17:00","flux":2e-6},{"time":"2017-09-08T18:00","flux":1e-5},{"time":"2017-09-08T19:00","flux":2e-6},{"time":"2017-09-08T20:00","flux":1.2e-5},{"time":"2017-09-08T21:00","flux":2e-6},{"time":"2017-09-08T22:00","flux":1e-5},{"time":"2017-09-08T22:30","flux":2.5e-6},
      {"time":"2017-09-09T01:00","flux":1e-5},{"time":"2017-09-09T02:00","flux":2e-6},{"time":"2017-09-09T03:00","flux":1.3e-5},{"time":"2017-09-09T04:00","flux":2e-6},{"time":"2017-09-09T05:00","flux":8e-6},{"time":"2017-09-09T07:00","flux":1e-5},{"time":"2017-09-09T08:00","flux":2e-6},{"time":"2017-09-09T09:00","flux":1.2e-5},{"time":"2017-09-09T11:00","flux":1.5e-5},{"time":"2017-09-09T12:00","flux":2e-6},{"time":"2017-09-09T13:00","flux":1e-5},{"time":"2017-09-09T14:00","flux":2e-6},{"time":"2017-09-09T15:00","flux":1.2e-5},{"time":"2017-09-09T16:00","flux":2e-6},{"time":"2017-09-09T17:00","flux":8e-6},{"time":"2017-09-09T18:15","flux":1e-5},{"time":"2017-09-09T19:00","flux":2e-6},{"time":"2017-09-09T20:00","flux":1.5e-5},{"time":"2017-09-09T21:00","flux":1.5e-6},{"time":"2017-09-09T22:00","flux":1e-5},{"time":"2017-09-09T23:00","flux":2e-6},
      {"time":"2017-09-10T00:50","flux":6e-6},{"time":"2017-09-10T01:30","flux":1.2e-6},{"time":"2017-09-10T02:30","flux":5e-6},{"time":"2017-09-10T03:30","flux":1e-6},{"time":"2017-09-10T04:30","flux":4e-6},{"time":"2017-09-10T07:00","flux":5e-6},{"time":"2017-09-10T08:00","flux":9e-7},{"time":"2017-09-10T09:00","flux":4e-6},{"time":"2017-09-10T10:00","flux":9e-7},{"time":"2017-09-10T11:00","flux":4e-6},{"time":"2017-09-10T12:00","flux":1e-6},{"time":"2017-09-10T13:00","flux":5e-6}
    ],
    "flares": [
      {"time":"2017-09-06T10:40","flux":3.2e-4,"kind":"xrsb max"},
      {"time":"2017-09-06T13:25","flux":1.48e-3,"kind":"xrsb max"},
      {"time":"2017-09-07T10:45","flux":1.23e-4,"kind":"xrsb max"},
      {"time":"2017-09-07T15:25","flux":2.2e-4,"kind":"xrsb max"},
      {"time":"2017-09-08T08:50","flux":1.3e-4,"kind":"xrsb max"},
      {"time":"2017-09-10T17:30","flux":1.31e-3,"kind":"xrsb max"},
      {"time":"2017-09-06T10:00","flux":8e-6,"kind":"xrsb left"},
      {"time":"2017-09-06T12:40","flux":9e-6,"kind":"xrsb left"},
      {"time":"2017-09-07T08:25","flux":1e-5,"kind":"xrsb left"},
      {"time":"2017-09-07T16:10","flux":6e-6,"kind":"xrsb left"},
      {"time":"2017-09-08T08:45","flux":4.9e-6,"kind":"xrsb left"},
      {"time":"2017-09-10T14:30","flux":1e-5,"kind":"xrsb left"},
      {"time":"2017-09-06T14:10","flux":1e-5,"kind":"xrsb right"},
      {"time":"2017-09-06T20:10","flux":1e-5,"kind":"xrsb right"},
      {"time":"2017-09-07T11:30","flux":7.4e-6,"kind":"xrsb right"},
      {"time":"2017-09-07T17:20","flux":1e-5,"kind":"xrsb right"},
      {"time":"2017-09-08T09:15","flux":1e-5,"kind":"xrsb right"},
      {"time":"2017-09-11T00:00","flux":1e-5,"kind":"xrsb right"}
    ],
    "classes": [
      {"cls":"X","flux":4e-4},
      {"cls":"M","flux":3.9e-5},
      {"cls":"C","flux":3.9e-6},
      {"cls":"B","flux":4e-7},
      {"cls":"A","flux":3.9e-8}
    ]
  },
  "layer": [
    {
      "data": {"name": "flares"},
      "mark": {"type": "circle", "size": 115, "opacity": 1},
      "encoding": {
        "x": {
          "field": "time", "type": "temporal",
          "scale": {"domain": [{"year": 2017, "month": 9, "date": 1}, {"year": 2017, "month": 10, "date": 1}]},
          "axis": {
            "values": [{"year": 2017, "month": 9, "date": 1}, {"year": 2017, "month": 9, "date": 5}, {"year": 2017, "month": 9, "date": 9}, {"year": 2017, "month": 9, "date": 13}, {"year": 2017, "month": 9, "date": 17}, {"year": 2017, "month": 9, "date": 21}, {"year": 2017, "month": 9, "date": 25}, {"year": 2017, "month": 9, "date": 29}, {"year": 2017, "month": 10, "date": 1}],
            "labelExpr": "date(datum.value) == 1 ? timeFormat(datum.value, '%b') : timeFormat(datum.value, '%d')",
            "labelFontSize": 15, "labelPadding": 3, "tickSize": 5, "labelFlush": false, "labelOverlap": false,
            "grid": false, "title": "Date", "titleFontSize": 22, "titlePadding": 6
          }
        },
        "y": {
          "field": "flux", "type": "quantitative",
          "scale": {"type": "log", "domain": [1e-9, 1e-2], "nice": false},
          "axis": {
            "values": [1e-9,2e-9,3e-9,4e-9,5e-9,6e-9,7e-9,8e-9,9e-9,1e-8,2e-8,3e-8,4e-8,5e-8,6e-8,7e-8,8e-8,9e-8,1e-7,2e-7,3e-7,4e-7,5e-7,6e-7,7e-7,8e-7,9e-7,1e-6,2e-6,3e-6,4e-6,5e-6,6e-6,7e-6,8e-6,9e-6,1e-5,2e-5,3e-5,4e-5,5e-5,6e-5,7e-5,8e-5,9e-5,1e-4,2e-4,3e-4,4e-4,5e-4,6e-4,7e-4,8e-4,9e-4,1e-3,2e-3,3e-3,4e-3,5e-3,6e-3,7e-3,8e-3,9e-3,1e-2],
            "labelExpr": "abs(log(datum.value) / LN10 - round(log(datum.value) / LN10)) < 0.001 ? '10' + ['', '', '⁻²', '⁻³', '⁻⁴', '⁻⁵', '⁻⁶', '⁻⁷', '⁻⁸', '⁻⁹'][-round(log(datum.value) / LN10)] : ''",
            "labelFontSize": 15, "labelPadding": 4, "labelOverlap": false, "labelFlush": false,
            "tickSize": {"condition": {"test": "abs(log(datum.value) / LN10 - round(log(datum.value) / LN10)) < 0.001", "value": 6}, "value": 3.5},
            "grid": true, "gridColor": "#b0b0b0", "gridWidth": 1,
            "gridOpacity": {"condition": {"test": "abs(log(datum.value) / LN10 - round(log(datum.value) / LN10)) < 0.001", "value": 1}, "value": 0},
            "title": "Flux (W/m²)", "titleFontSize": 21, "titlePadding": 28
          }
        },
        "color": {
          "field": "kind", "type": "nominal",
          "scale": {"domain": ["xrsb max", "xrsb left", "xrsb right", "1.0−8.0 Å"], "range": ["#008000", "#ffa500", "#0000ff", "#ff0000"]},
          "legend": {
            "orient": "none", "legendX": 413, "legendY": 11, "title": null,
            "labelFontSize": 22.5, "labelFont": "DejaVu Sans", "labelColor": "black",
            "symbolSize": 115, "symbolOffset": 11, "labelOffset": 27, "rowPadding": 11.5, "padding": 10,
            "strokeColor": "#cccccc", "fillColor": "rgba(255,255,255,0.8)", "cornerRadius": 4,
            "encode": {
              "symbols": {
                "shape": {"condition": {"test": "datum.index === 3", "value": "stroke"}, "value": "circle"},
                "size": {"condition": {"test": "datum.index === 3", "value": 2304}, "value": 115},
                "stroke": {"condition": {"test": "datum.index === 3", "value": "#ff0000"}, "value": "transparent"},
                "strokeWidth": {"condition": {"test": "datum.index === 3", "value": 3}, "value": 0},
                "opacity": {"value": 1}
              }
            }
          }
        }
      }
    },
    {
      "data": {"name": "xrs"},
      "mark": {"type": "line", "strokeWidth": 2.6, "clip": true},
      "encoding": {
        "x": {"field": "time", "type": "temporal"},
        "y": {"field": "flux", "type": "quantitative"},
        "color": {"datum": "1.0−8.0 Å"}
      }
    },
    {
      "data": {"name": "flares"},
      "mark": {"type": "circle", "size": 115, "opacity": 1},
      "encoding": {
        "x": {"field": "time", "type": "temporal"},
        "y": {"field": "flux", "type": "quantitative"},
        "color": {
          "field": "kind", "type": "nominal",
          "legend": {
            "orient": "none", "legendX": 413, "legendY": 11, "title": null,
            "labelFontSize": 22.5, "labelFont": "DejaVu Sans", "labelColor": "black",
            "symbolSize": 115, "symbolOffset": 11, "labelOffset": 27, "rowPadding": 11.5, "padding": 10,
            "strokeColor": "#cccccc", "fillColor": "rgba(255,255,255,0.8)", "cornerRadius": 4,
            "encode": {
              "symbols": {
                "shape": {"condition": {"test": "datum.index === 3", "value": "stroke"}, "value": "circle"},
                "size": {"condition": {"test": "datum.index === 3", "value": 2304}, "value": 115},
                "stroke": {"condition": {"test": "datum.index === 3", "value": "#ff0000"}, "value": "transparent"},
                "strokeWidth": {"condition": {"test": "datum.index === 3", "value": 3}, "value": 0},
                "opacity": {"value": 1}
              }
            }
          }
        }
      }
    },
    {
      "data": {"name": "classes"},
      "mark": {"type": "text", "align": "left", "baseline": "middle", "dx": 8, "fontSize": 15, "fontWeight": "bold", "font": "DejaVu Sans", "color": "black"},
      "encoding": {
        "x": {"datum": {"year": 2017, "month": 10, "date": 1}, "type": "temporal"},
        "y": {"field": "flux", "type": "quantitative"},
        "text": {"field": "cls"}
      }
    },
    {
      "data": {"values": [{"label": "2017-Oct"}]},
      "mark": {"type": "text", "align": "right", "baseline": "middle", "dy": 41, "fontSize": 15, "font": "DejaVu Sans", "color": "black"},
      "encoding": {
        "x": {"datum": {"year": 2017, "month": 10, "date": 1}, "type": "temporal"},
        "y": {"datum": 1e-9, "type": "quantitative"},
        "text": {"field": "label"}
      }
    }
  ]
}
